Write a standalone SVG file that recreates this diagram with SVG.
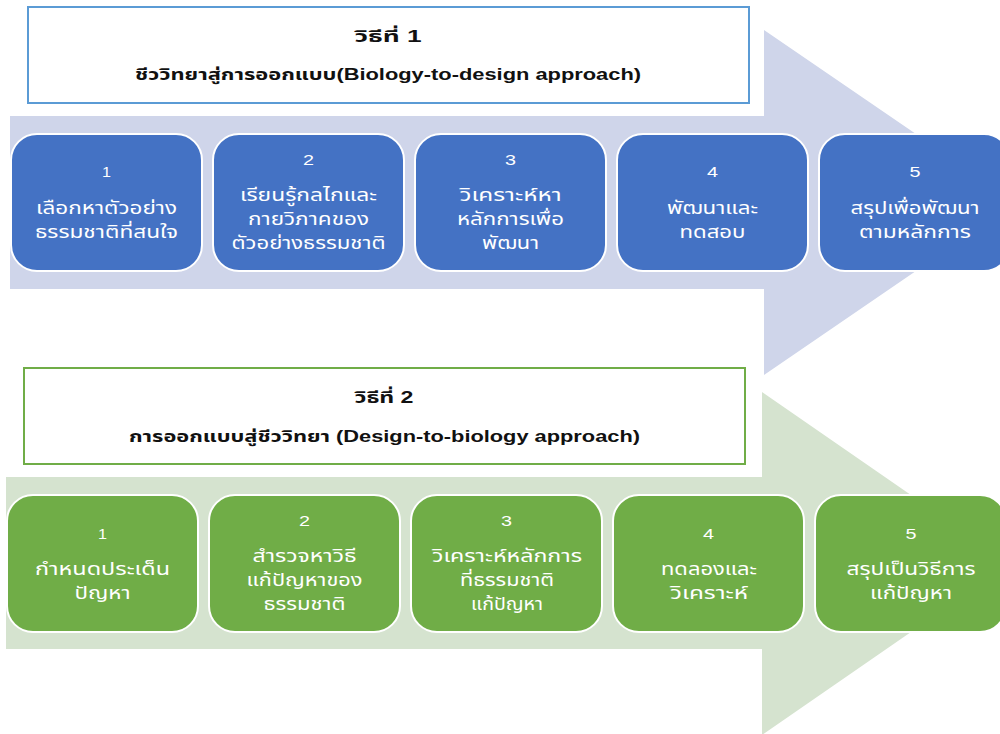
<svg xmlns="http://www.w3.org/2000/svg" width="1000" height="734" viewBox="0 0 1000 734">
<style>
.bg{fill:#ffffff}
.arrowB{fill:#CFD5EA}
.arrowG{fill:#D5E3CF}
.titleB{fill:#ffffff;stroke:#5B9BD5;stroke-width:2}
.titleG{fill:#ffffff;stroke:#70AD47;stroke-width:2}
.boxB{fill:#4472C4;stroke:#ffffff;stroke-width:2}
.boxG{fill:#70AD47;stroke:#ffffff;stroke-width:2}
.tt{font-family:"Liberation Sans","Noto Sans Thai","Noto Sans",sans-serif;font-weight:bold;font-size:16px;fill:#111111;text-anchor:middle}
.num{font-family:"Liberation Sans","Noto Sans",sans-serif;font-size:15px;fill:#ffffff;text-anchor:middle}
.bt{font-family:"Liberation Sans","Noto Sans Thai","Noto Sans",sans-serif;font-size:17px;fill:#ffffff;text-anchor:middle}
</style>
<rect class="bg" x="0" y="0" width="1000" height="734"/>

<g id="arrow-method1">
<path class="arrowB" d="M10,116 H764 V30 L1016,202.5 L764,375 V289 H10 Z"/>
</g>
<g id="arrow-method2">
<path class="arrowG" d="M6,477 H762 V392 L1010,563.5 L762,735 V649 H6 Z"/>
</g>

<g id="title-method1">
<rect class="titleB" x="28" y="7" width="721" height="96"/>
<text class="tt" x="388" y="42" textLength="67" lengthAdjust="spacingAndGlyphs">วิธีที่ 1</text>
<text class="tt" x="388" y="80" textLength="506" lengthAdjust="spacingAndGlyphs">ชีววิทยาสู่การออกแบบ(Biology-to-design approach)</text>
</g>

<g id="title-method2">
<rect class="titleG" x="24" y="368" width="721" height="96"/>
<text class="tt" x="384" y="403" textLength="59" lengthAdjust="spacingAndGlyphs">วิธีที่ 2</text>
<text class="tt" x="384.5" y="442" textLength="511" lengthAdjust="spacingAndGlyphs">การออกแบบสู่ชีววิทยา (Design-to-biology approach)</text>
</g>

<g id="connectors"></g>

<g id="m1-step1">
<rect class="boxB" x="11" y="134" width="191" height="137" rx="26"/>
<text class="num" x="106.5" y="177" textLength="9" lengthAdjust="spacingAndGlyphs">1</text>
<text class="bt" x="106.5" y="214" textLength="141" lengthAdjust="spacingAndGlyphs">เลือกหาตัวอย่าง</text>
<text class="bt" x="106.5" y="237.5" textLength="143" lengthAdjust="spacingAndGlyphs">ธรรมชาติที่สนใจ</text>
</g>
<g id="m1-step2">
<rect class="boxB" x="213" y="134" width="191" height="137" rx="26"/>
<text class="num" x="308.5" y="165" textLength="11" lengthAdjust="spacingAndGlyphs">2</text>
<text class="bt" x="308.5" y="201" textLength="137" lengthAdjust="spacingAndGlyphs">เรียนรู้กลไกและ</text>
<text class="bt" x="308.5" y="225" textLength="121" lengthAdjust="spacingAndGlyphs">กายวิภาคของ</text>
<text class="bt" x="308.5" y="249" textLength="154" lengthAdjust="spacingAndGlyphs">ตัวอย่างธรรมชาติ</text>
</g>
<g id="m1-step3">
<rect class="boxB" x="415" y="134" width="191" height="137" rx="26"/>
<text class="num" x="510.5" y="165" textLength="11" lengthAdjust="spacingAndGlyphs">3</text>
<text class="bt" x="510.5" y="201" textLength="102" lengthAdjust="spacingAndGlyphs">วิเคราะห์หา</text>
<text class="bt" x="510.5" y="225" textLength="107" lengthAdjust="spacingAndGlyphs">หลักการเพื่อ</text>
<text class="bt" x="510.5" y="249" textLength="57" lengthAdjust="spacingAndGlyphs">พัฒนา</text>
</g>
<g id="m1-step4">
<rect class="boxB" x="617" y="134" width="191" height="137" rx="26"/>
<text class="num" x="712.5" y="177" textLength="11" lengthAdjust="spacingAndGlyphs">4</text>
<text class="bt" x="712.5" y="214" textLength="91" lengthAdjust="spacingAndGlyphs">พัฒนาและ</text>
<text class="bt" x="712.5" y="237.5" textLength="66" lengthAdjust="spacingAndGlyphs">ทดสอบ</text>
</g>
<g id="m1-step5">
<rect class="boxB" x="819" y="134" width="191" height="137" rx="26"/>
<text class="num" x="915" y="177" textLength="11" lengthAdjust="spacingAndGlyphs">5</text>
<text class="bt" x="915" y="214" textLength="129" lengthAdjust="spacingAndGlyphs">สรุปเพื่อพัฒนา</text>
<text class="bt" x="915" y="237.5" textLength="112" lengthAdjust="spacingAndGlyphs">ตามหลักการ</text>
</g>

<g id="m2-step1">
<rect class="boxG" x="7" y="495" width="191" height="137" rx="26"/>
<text class="num" x="102.5" y="538.5" textLength="9" lengthAdjust="spacingAndGlyphs">1</text>
<text class="bt" x="102.5" y="575" textLength="135" lengthAdjust="spacingAndGlyphs">กำหนดประเด็น</text>
<text class="bt" x="102.5" y="598.5" textLength="56" lengthAdjust="spacingAndGlyphs">ปัญหา</text>
</g>
<g id="m2-step2">
<rect class="boxG" x="209" y="495" width="191" height="137" rx="26"/>
<text class="num" x="304.5" y="526" textLength="11" lengthAdjust="spacingAndGlyphs">2</text>
<text class="bt" x="304.5" y="562" textLength="104" lengthAdjust="spacingAndGlyphs">สำรวจหาวิธี</text>
<text class="bt" x="304.5" y="586" textLength="116" lengthAdjust="spacingAndGlyphs">แก้ปัญหาของ</text>
<text class="bt" x="304.5" y="610" textLength="82" lengthAdjust="spacingAndGlyphs">ธรรมชาติ</text>
</g>
<g id="m2-step3">
<rect class="boxG" x="411" y="495" width="191" height="137" rx="26"/>
<text class="num" x="506.5" y="526" textLength="11" lengthAdjust="spacingAndGlyphs">3</text>
<text class="bt" x="507" y="562" textLength="150" lengthAdjust="spacingAndGlyphs">วิเคราะห์หลักการ</text>
<text class="bt" x="507" y="586" textLength="94" lengthAdjust="spacingAndGlyphs">ที่ธรรมชาติ</text>
<text class="bt" x="507" y="610" textLength="72" lengthAdjust="spacingAndGlyphs">แก้ปัญหา</text>
</g>
<g id="m2-step4">
<rect class="boxG" x="613" y="495" width="191" height="137" rx="26"/>
<text class="num" x="708.5" y="538.5" textLength="11" lengthAdjust="spacingAndGlyphs">4</text>
<text class="bt" x="709" y="575" textLength="96" lengthAdjust="spacingAndGlyphs">ทดลองและ</text>
<text class="bt" x="709" y="598.5" textLength="78" lengthAdjust="spacingAndGlyphs">วิเคราะห์</text>
</g>
<g id="m2-step5">
<rect class="boxG" x="815" y="495" width="191" height="137" rx="26"/>
<text class="num" x="911" y="538.5" textLength="11" lengthAdjust="spacingAndGlyphs">5</text>
<text class="bt" x="911" y="575" textLength="129" lengthAdjust="spacingAndGlyphs">สรุปเป็นวิธีการ</text>
<text class="bt" x="911" y="598.5" textLength="82" lengthAdjust="spacingAndGlyphs">แก้ปัญหา</text>
</g>
</svg>
